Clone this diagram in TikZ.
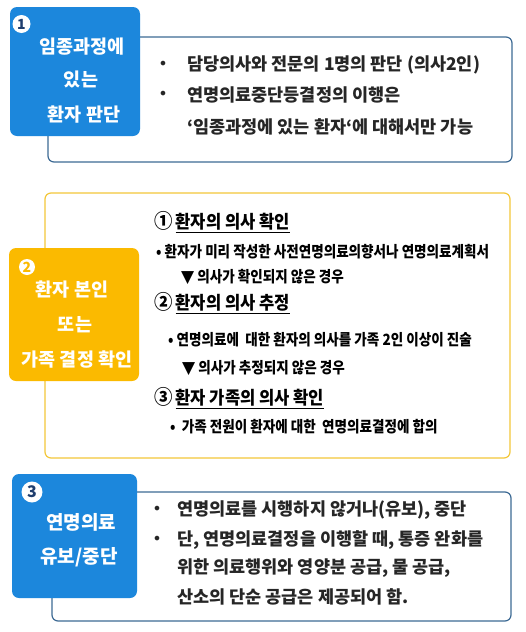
\documentclass[tikz,border=0pt]{standalone}
\usepackage{fontspec}
\setmainfont{Noto Sans CJK KR}
\newfontfamily\cond[FakeStretch=0.875]{Noto Sans CJK KR}
\newfontfamily\condh[FakeStretch=0.92]{Noto Sans CJK KR}
\newfontfamily\symf{DejaVu Sans}
\newcommand{\tri}{{\symf\fontsize{17}{17}\selectfont ▼}}
\newcommand{\circn}[1]{{\fontsize{20}{20}\selectfont #1}}
\definecolor{boxblue}{HTML}{1C87DC}
\definecolor{lineblue}{HTML}{3D6A94}
\definecolor{boxyellow}{HTML}{FBBA00}
\definecolor{lineyellow}{HTML}{F3C73A}
\definecolor{numnavy}{HTML}{1F3E6E}
\definecolor{txt}{HTML}{262626}
\tikzset{
  outline/.style={line width=1.2pt, rounded corners=6pt, fill=white},
  tagbox/.style={rounded corners=7pt},
  tagtext/.style={text=white, font=\fontsize{18.5}{20}\selectfont\bfseries, inner sep=0pt},
  numcirc/.style={circle, fill=white, inner sep=0pt, font=\fontsize{14}{14}\selectfont\bfseries},
  s1text/.style={anchor=west, inner sep=0pt, text=txt, font=\fontsize{17.5}{19}\selectfont\bfseries},
  s2head/.style={anchor=west, inner sep=0pt, text=black, font=\condh\fontsize{18}{20}\selectfont\bfseries},
  s2text/.style={anchor=west, inner sep=0pt, text=black, font=\cond\fontsize{15.5}{17}\selectfont\bfseries},
  bul/.style={anchor=center, inner sep=0pt, text=txt, font=\symf\fontsize{16}{16}\selectfont}
}
\begin{document}
\begin{tikzpicture}[x=1pt,y=-1pt]
\useasboundingbox (0,0) rectangle (525,632);
\fill[white] (0,0) rectangle (525,632);
% ---------- section 1 ----------
\draw[outline, draw=lineblue] (48,37) rectangle (512,162);
\fill[tagbox, boxblue] (10,7) rectangle (140,136);
\node[numcirc, minimum size=18pt, text=numnavy] (c1) at (21.5,24) {1};
\node[tagtext] (t1a) at (82,47) {임종과정에};
\node[tagtext] (t1b) at (81,80) {있는};
\node[tagtext] (t1c) at (84,115) {환자 판단};
\node[bul] (b1a) at (163,65) {•};
\node[s1text] (l1a) at (187,65) {담당의사와 전문의 1명의 판단 (의사2인)};
\node[bul] (b1b) at (163,95) {•};
\node[s1text] (l1b) at (187,95) {연명의료중단등결정의 이행은};
\node[s1text] (l1c) at (187,127) {‘임종과정에 있는 환자‘에 대해서만 가능};
% ---------- section 2 ----------
\draw[outline, draw=lineyellow] (45,193) rectangle (510,458);
\fill[tagbox, boxyellow] (9,248) rectangle (139,381);
\node[numcirc, minimum size=16pt, text=boxyellow] (c2) at (27,267) {2};
\node[tagtext] (t2a) at (72,290) {환자 본인};
\node[tagtext] (t2b) at (75,325) {또는};
\node[tagtext] (t2c) at (77,360) {가족 결정 확인};
\node[s2head] (h1) at (154,222) {\circn{①}\hspace{3pt}\underline{환자의 의사 확인}};
\node[s2head] (h2) at (154,303) {\circn{②}\hspace{3pt}\underline{환자의 의사 추정}};
\node[s2head] (h3) at (154,398) {\circn{③}\hspace{3pt}\underline{환자 가족의 의사 확인}};
\node[s2text] (l2a) at (156,252) {• 환자가 미리 작성한 사전연명의료의향서나 연명의료계획서};
\node[s2text] (l2b) at (181,277) {\tri\ 의사가 확인되지 않은 경우};
\node[s2text] (l2c) at (168,340) {• 연명의료에 \ 대한 환자의 의사를 가족 2인 이상이 진술};
\node[s2text] (l2d) at (182,368) {\tri\ 의사가 추정되지 않은 경우};
\node[s2text] (l2e) at (170,427) {• \ 가족 전원이 환자에 대한 \ 연명의료결정에 합의};
% ---------- section 3 ----------
\draw[outline, draw=lineblue] (52,492) rectangle (511,621);
\fill[tagbox, boxblue] (12,474) rectangle (137,598);
\node[numcirc, minimum size=21pt, font=\fontsize{16}{16}\selectfont\bfseries, text=numnavy] (c3) at (32,492) {3};
\node[tagtext, font=\fontsize{19}{20}\selectfont\bfseries] (t3a) at (81,522) {연명의료};
\node[tagtext, font=\fontsize{19}{20}\selectfont\bfseries] (t3b) at (79,557) {유보/중단};
\node[bul] (b3a) at (157,510) {•};
\node[s1text] (l3a) at (177,510) {연명의료를 시행하지 않거나(유보), 중단};
\node[bul] (b3b) at (157,540) {•};
\node[s1text] (l3b) at (177,540) {단, 연명의료결정을 이행할 때, 통증 완화를};
\node[s1text] (l3c) at (177,568) {위한 의료행위와 영양분 공급, 물 공급,};
\node[s1text] (l3d) at (177,597) {산소의 단순 공급은 제공되어 함.};
\end{tikzpicture}
\end{document}
